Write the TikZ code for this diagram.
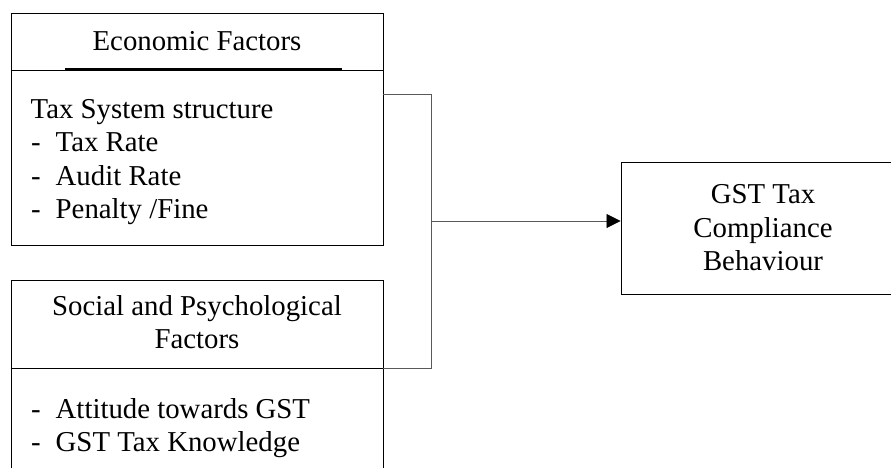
\documentclass[tikz,border=0pt]{standalone}
\usepackage{fontspec}
\setmainfont{Liberation Serif}
\usetikzlibrary{arrows.meta}
\begin{document}
\begin{tikzpicture}[x=1pt,y=-1pt,
  box/.style={draw=black,line width=0.9pt,rectangle,inner sep=0pt},
  conn/.style={draw=black!65,line width=0.8pt},
  txt/.style={inner sep=0pt,font=\fontsize{28.8}{33.5}\selectfont},
  lt/.style={txt,anchor=base west},
  ct/.style={txt,anchor=base}]
\useasboundingbox (0,0) rectangle (891,468);
\clip (0,0) rectangle (891,468);
% boxes
\node[box,minimum width=372pt,minimum height=232pt] (econ) at (197,129) {};
\node[box,minimum width=372pt,minimum height=220pt] (social) at (197,390) {};
\node[box,minimum width=290pt,minimum height=132pt] (gst) at (766,228) {};
% dividers
\draw[line width=0.9pt] (econ.west |- 0,70) -- (econ.east |- 0,70);
\draw[line width=1.3pt] (65,69) -- (342,69);
\draw[line width=0.9pt] (social.west |- 0,368) -- (social.east |- 0,368);
% economic texts
\node[ct] (econh) at (197,51) {Economic Factors};
\node[lt] (tss) at (30.5,118) {Tax System structure};
\node[lt] (d1) at (31,151.5) {-};
\node[lt] (i1) at (55.5,151.5) {Tax Rate};
\node[lt] (d2) at (31,185) {-};
\node[lt] (i2) at (55.5,185) {Audit Rate};
\node[lt] (d3) at (31,218.5) {-};
\node[lt] (i3) at (55.5,218.5) {Penalty /Fine};
% social texts
\node[ct] (soch1) at (197,315) {Social and Psychological};
\node[ct] (soch2) at (197,348.5) {Factors};
\node[lt] (d4) at (31,418) {-};
\node[lt] (i4) at (55.5,418) {Attitude towards GST};
\node[lt] (d5) at (31,451.5) {-};
\node[lt] (i5) at (55.5,451.5) {GST Tax Knowledge};
% gst texts
\node[ct] (g1) at (763,203.5) {GST Tax};
\node[ct] (g2) at (763,237) {Compliance};
\node[ct] (g3) at (763,270.5) {Behaviour};
% connectors
\coordinate (ctop) at (431,94);
\coordinate (cbot) at (431,368);
\coordinate (cmid) at (431,221);
\draw[conn] (econ.east |- ctop) -- (ctop) -- (cbot) -- (social.east |- cbot);
\draw[conn,-{Triangle[length=14pt,width=14pt,color=black]}] (cmid) -- (cmid -| gst.west);
\end{tikzpicture}
\end{document}
